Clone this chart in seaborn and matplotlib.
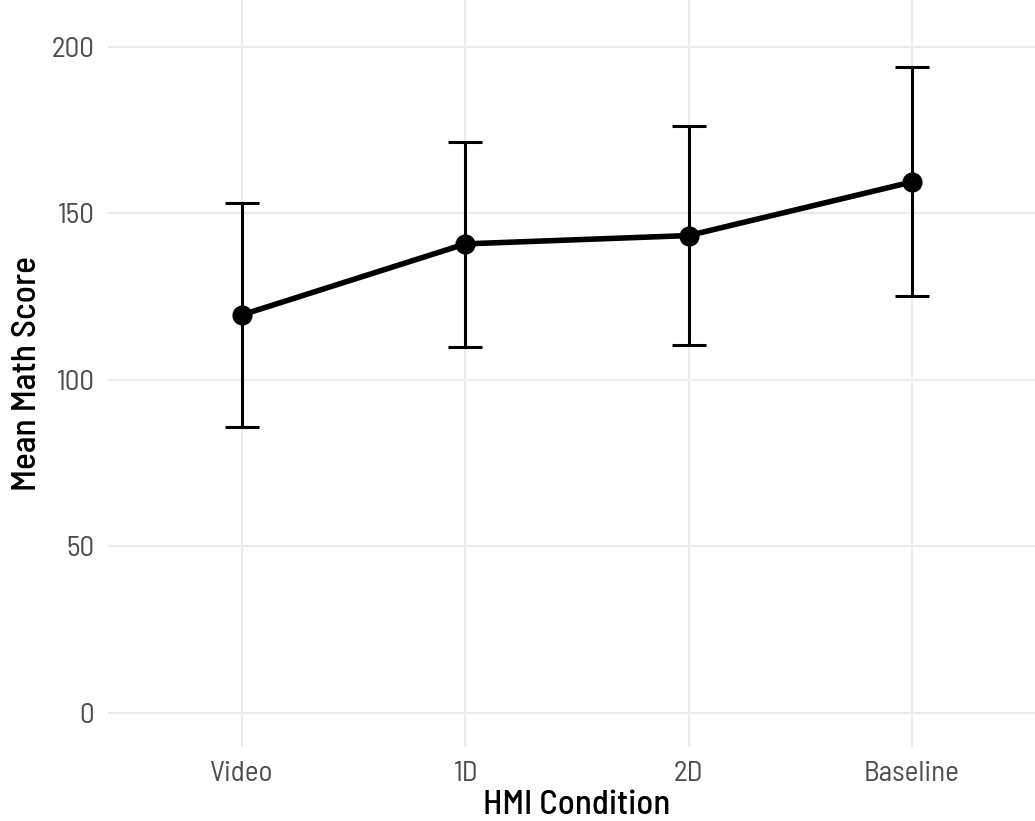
import matplotlib
matplotlib.use("Agg")
import matplotlib.pyplot as plt
import seaborn as sns
import numpy as np
import pandas as pd

# Data
conditions = ["Video", "1D", "2D", "Baseline"]
mean_score = [119.5, 140.8, 143.3, 159.4]
lower_ci = [85.9, 109.9, 110.5, 125.3]
upper_ci = [153.2, 171.5, 176.3, 193.8]

df = pd.DataFrame({"HMI Condition": conditions, "Mean Math Score": mean_score})

sns.set_theme(style="white")
plt.rcParams['font.family'] = ['Barlow Semi Condensed', 'DejaVu Sans']

fig = plt.figure(figsize=(10.35, 8.21), dpi=100)
ax = fig.add_axes([108 / 1035, 1 - 747 / 821, (1046 - 108) / 1035, 747 / 821])

pos = np.arange(len(conditions))
mean = np.array(mean_score)
ax.errorbar(pos, mean, yerr=[mean - np.array(lower_ci), np.array(upper_ci) - mean],
            fmt="none", ecolor="black", elinewidth=2.2, capsize=12, capthick=2.2, zorder=3)
sns.pointplot(data=df, x="HMI Condition", y="Mean Math Score", color="black",
              errorbar=None, markersize=11.5, linewidth=4, ax=ax, zorder=4)

ax.set_xlim(-0.6, 3.6)
ax.set_ylim(-10.2, 214)
ax.set_yticks([0, 50, 100, 150, 200])
ax.grid(True, color="#ebebeb", linewidth=1.5)
ax.set_axisbelow(True)
for s in ax.spines.values():
    s.set_visible(False)
ax.tick_params(axis="both", length=0, labelsize=21, labelcolor="#4d4d4d", pad=10)
for lab in ax.get_xticklabels() + ax.get_yticklabels():
    lab.set_fontweight(400)
ax.set_xlabel("HMI Condition", fontsize=25, fontweight=500, color="black", labelpad=2)
ax.set_ylabel("Mean Math Score", fontsize=25.5, fontweight=500, color="black", labelpad=6)

fig.savefig("out.png", dpi=100)
